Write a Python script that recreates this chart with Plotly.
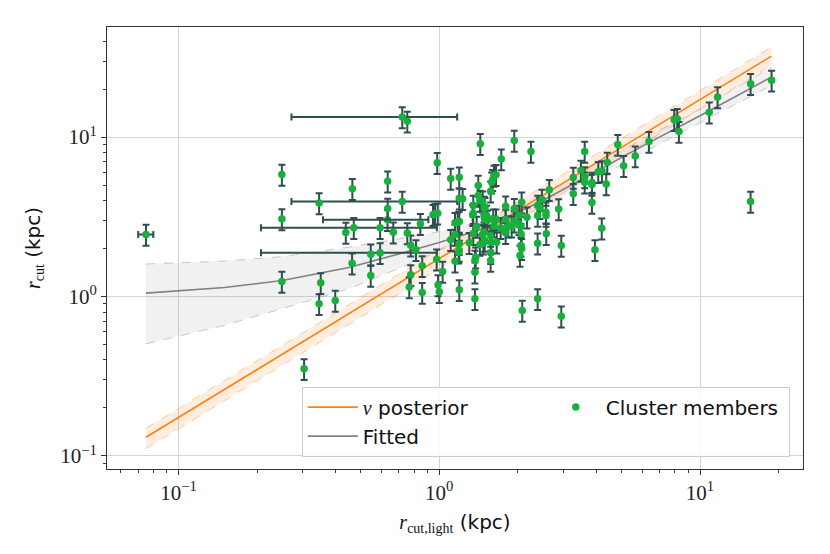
import plotly.graph_objects as go

# cluster members (kpc)
members_x = [
    0.249, 0.249, 0.249, 0.346, 0.351, 0.346, 0.399, 0.303, 0.438, 0.464,
    0.470, 0.463, 0.546, 0.546, 0.634, 0.634, 0.666, 0.754, 0.754, 0.777,
    0.814, 0.846, 0.860, 0.777, 0.767, 0.860, 0.946, 0.963, 0.986, 0.982,
    0.977, 0.989, 1.000, 1.030, 1.106, 1.106, 1.149, 1.193, 1.193, 1.229,
    1.193, 1.176, 1.149, 1.149, 1.193, 1.193, 1.187, 1.193, 1.350, 1.343,
    1.350, 1.303, 1.379, 1.370, 1.370, 1.370, 1.411, 1.411, 1.350, 1.391,
    1.436, 1.939, 2.247, 1.729, 1.621, 1.650, 1.602, 1.588, 1.574, 1.432,
    1.467, 1.488, 1.497, 1.484, 1.519, 1.528, 1.493, 1.484, 1.467, 1.493,
    1.432, 1.475, 1.574, 1.582, 1.611, 1.650, 1.621, 1.660, 1.797, 1.797,
    1.720, 1.797, 1.839, 1.895, 1.939, 1.939, 2.070, 2.026, 2.021, 2.057,
    2.057, 2.057, 2.070, 2.039, 2.169, 1.574, 1.574, 2.081, 2.384, 2.384,
    2.384, 2.433, 2.476, 2.384, 2.566, 2.566, 2.572, 2.641, 2.870, 2.937,
    2.937, 3.265, 3.265, 3.611, 3.611, 3.611, 3.494, 3.850, 3.850, 3.850,
    4.071, 4.206, 4.369, 4.199, 3.954, 4.408, 4.836, 5.094, 5.644, 6.370,
    7.963, 8.177, 8.301, 10.85, 11.68, 15.63, 18.82, 15.63,
]
members_y = [
    5.834, 3.066, 1.242, 3.863, 1.219, 0.900, 0.944, 0.352, 2.522, 4.743,
    2.700, 1.618, 1.843, 1.355, 5.294, 3.567, 2.533, 12.55, 2.504, 2.099,
    1.964, 2.860, 1.558, 1.368, 1.147, 1.059, 3.258, 3.305, 3.334, 6.907,
    1.715, 1.181, 1.070, 1.435, 5.504, 2.273, 1.666, 5.608, 4.141, 4.105,
    2.957, 2.927, 2.902, 2.450, 2.142, 1.945, 1.897, 1.102, 3.334, 3.258,
    2.475, 2.174, 1.765, 1.683, 1.421, 0.967, 4.975, 4.306, 3.726, 2.751,
    9.091, 9.535, 8.132, 7.276, 5.749, 5.808, 5.402, 5.217, 4.581, 4.006,
    3.966, 3.672, 3.603, 3.258, 3.225, 3.000, 3.056, 2.533, 2.450, 2.247,
    2.121, 2.161, 2.415, 2.192, 3.056, 3.056, 2.763, 2.192, 3.688, 3.044,
    2.700, 2.511, 2.763, 2.763, 2.970, 3.551, 3.908, 3.225, 2.860, 2.751,
    2.475, 2.090, 1.993, 1.808, 3.147, 1.880, 1.683, 0.817, 2.161, 0.967,
    3.726, 3.603, 4.064, 3.225, 3.382, 3.225, 2.475, 4.675, 3.541, 2.090,
    0.752, 5.585, 4.412, 8.132, 5.625, 5.217, 6.180, 5.194, 5.047, 3.891,
    6.065, 6.135, 5.083, 2.684, 1.964, 6.937, 8.973, 6.614, 7.598, 9.372,
    12.86, 13.05, 10.83, 14.33, 17.83, 21.63, 22.70, 3.949,
]

# members with a visible horizontal error bar
wide_x = [0.075, 0.593, 0.593, 0.633, 0.721, 0.721]
wide_y = [2.45, 2.700, 1.880, 3.030, 13.36, 3.949]
wide_xerr = [0.005, 0.386, 0.386, 0.275, 0.45, 0.45]

# nu posterior line and band
nu_x = [0.075, 18.8]
nu_y = [0.131, 32.2]
nu_lo = [0.111, 28.2]
nu_hi = [0.149, 36.7]

# fitted relation and band
fit_x = [0.075, 0.15, 0.25, 0.45, 0.7, 1.0, 1.43, 2.5, 4.0, 6.5, 10, 18.8]
fit_y = [1.05, 1.14, 1.26, 1.52, 1.85, 2.18, 2.62, 4.0, 6.1, 9.4, 13.6, 23.8]
fit_lo = [0.505, 0.66, 0.84, 1.12, 1.5, 1.95, 2.41, 3.6, 5.5, 8.5, 12.3, 21.1]
fit_hi = [1.60, 1.67, 1.78, 2.04, 2.3, 2.55, 2.93, 4.4, 6.7, 10.4, 15.0, 27.5]

ORANGE = "#ff7f0e"
GREEN = "#17b03c"
ERRC = "#2f4f4f"
SERIF = "Liberation Serif"
SANS = "DejaVu Sans"

fig = go.Figure()

# bands
fig.add_trace(go.Scatter(x=fit_x, y=fit_lo, mode="lines", showlegend=False,
                         line=dict(color="rgba(128,128,128,0.4)", width=1, dash="dash"),
                         hoverinfo="skip"))
fig.add_trace(go.Scatter(x=fit_x, y=fit_hi, mode="lines", showlegend=False, fill="tonexty",
                         fillcolor="rgba(128,128,128,0.11)",
                         line=dict(color="rgba(128,128,128,0.4)", width=1, dash="dash"),
                         hoverinfo="skip"))
fig.add_trace(go.Scatter(x=nu_x, y=nu_lo, mode="lines", showlegend=False,
                         line=dict(color="rgba(255,127,14,0.4)", width=1, dash="dash"),
                         hoverinfo="skip"))
fig.add_trace(go.Scatter(x=nu_x, y=nu_hi, mode="lines", showlegend=False, fill="tonexty",
                         fillcolor="rgba(255,127,14,0.13)",
                         line=dict(color="rgba(255,127,14,0.4)", width=1, dash="dash"),
                         hoverinfo="skip"))

# lines
fig.add_trace(go.Scatter(x=nu_x, y=nu_y, mode="lines", legendrank=1,
                         name='<span style="font-family:Liberation Serif"><i>ν</i></span> posterior',
                         line=dict(color=ORANGE, width=1.6)))
fig.add_trace(go.Scatter(x=fit_x, y=fit_y, mode="lines", name="Fitted", legendrank=3,
                         line=dict(color="#808080", width=1.6)))

# points
err_y = dict(type="percent", value=15, color=ERRC, thickness=2, width=3.5)
fig.add_trace(go.Scatter(x=wide_x, y=wide_y, mode="markers", showlegend=False,
                         legendgroup="members",
                         marker=dict(color=GREEN, size=7.5),
                         error_y=err_y,
                         error_x=dict(type="data", array=wide_xerr, color=ERRC,
                                      thickness=2, width=3.5)))
fig.add_trace(go.Scatter(x=members_x, y=members_y, mode="markers", name="Cluster members",
                         legendgroup="members", legendrank=2,
                         marker=dict(color=GREEN, size=7.5),
                         error_y=err_y))

minor_vals = [m * 10.0 ** e for e in range(-2, 2) for m in range(2, 10)]

axis_common = dict(
    type="log", showline=True, mirror=True, linecolor="#333333", linewidth=1,
    showgrid=True, gridcolor="#d4d4d4", gridwidth=1, zeroline=False,
    ticks="outside", ticklen=5, tickcolor="#333333",
    tickvals=[0.1, 1, 10], ticktext=["10<sup>−1</sup>", "10<sup>0</sup>", "10<sup>1</sup>"],
    tickfont=dict(family=SERIF, size=21, color="#222222"),
    minor=dict(tickvals=minor_vals, ticks="outside", ticklen=3, tickcolor="#333333",
               showgrid=False),
)

# the page adds an 8px body margin, so the figure is drawn 8px smaller
fig.update_layout(
    width=822, height=546,
    margin=dict(l=99, r=27, t=19, b=85),
    paper_bgcolor="white", plot_bgcolor="white",
    xaxis=dict(axis_common, range=[-1.2745, 1.395],
               title=dict(text='<span style="font-family:Liberation Serif"><i>r</i><sub>cut,light</sub></span> (kpc)',
                          font=dict(family=SANS, size=20, color="#111111"), standoff=10)),
    yaxis=dict(axis_common, range=[-1.0816, 1.6905],
               title=dict(text='<span style="font-family:Liberation Serif"><i>r</i><sub>cut</sub></span> (kpc)',
                          font=dict(family=SANS, size=20, color="#111111"), standoff=14)),
    legend=dict(orientation="h", x=0.981, y=0.028, xanchor="right", yanchor="bottom",
                entrywidth=178, itemwidth=50, bgcolor="rgba(255,255,255,0.85)",
                bordercolor="#cccccc", borderwidth=1,
                font=dict(family=SANS, size=20, color="#111111"),
                traceorder="normal"),
    showlegend=True,
)

fig.write_html("out.html")
